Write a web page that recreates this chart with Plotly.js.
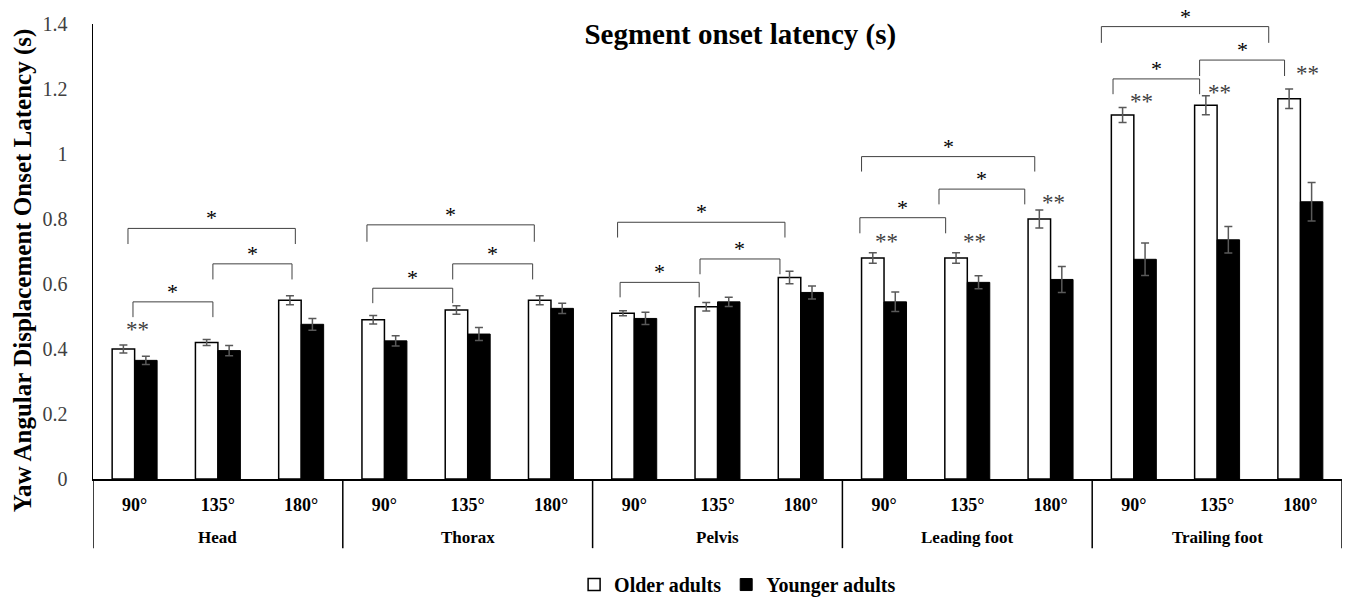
<!DOCTYPE html>
<html>
<head>
<meta charset="utf-8">
<script src="https://cdn.plot.ly/plotly-3.0.1.min.js"></script>
<style>html,body{margin:0;padding:0;background:#fff;}#chart{width:1346px;height:602px;}</style>
</head>
<body>
<div id="chart"></div>
<script>
// ---- data ----
const groups = ['Head', 'Thorax', 'Pelvis', 'Leading foot', 'Trailing foot'];
const angles = ['90°', '135°', '180°'];
const olderValues = [0.40, 0.42, 0.55, 0.49, 0.52, 0.55, 0.51, 0.53, 0.62, 0.68, 0.68, 0.80, 1.12, 1.15, 1.17];
const olderErrors = [0.012, 0.009, 0.014, 0.013, 0.013, 0.014, 0.008, 0.013, 0.019, 0.016, 0.016, 0.028, 0.023, 0.029, 0.030];
const youngerValues = [0.365, 0.395, 0.476, 0.425, 0.446, 0.525, 0.494, 0.545, 0.574, 0.545, 0.605, 0.614, 0.676, 0.736, 0.853];
const youngerErrors = [0.013, 0.016, 0.018, 0.016, 0.020, 0.016, 0.019, 0.014, 0.020, 0.030, 0.020, 0.040, 0.050, 0.041, 0.059];
const seriesNames = ['Older adults', 'Younger adults'];
// significance brackets: [from index, to index, top value, leg end value, label]
const brackets = [
  [-0.02, 0.94, 0.545, 0.498, '*'], [0.94, 1.89, 0.662, 0.614, '*'], [-0.08, 1.93, 0.771, 0.723, '*'],
  [2.86, 3.82, 0.587, 0.541, '*'], [3.82, 4.78, 0.662, 0.614, '*'], [2.79, 4.80, 0.782, 0.730, '*'],
  [5.83, 6.78, 0.605, 0.559, '*'], [6.79, 7.75, 0.677, 0.630, '*'], [5.80, 7.81, 0.790, 0.743, '*'],
  [8.71, 9.74, 0.804, 0.756, '*'], [9.66, 10.69, 0.892, 0.845, '*'], [8.73, 10.81, 0.992, 0.946, '*'],
  [11.75, 12.79, 1.231, 1.184, '*'], [12.79, 13.81, 1.289, 1.240, '*'], [11.61, 13.62, 1.392, 1.342, '*']
];
// group-difference markers: [index, value, label]
const groupMarks = [
  [0.03, 0.474, '**'], [9.03, 0.746, '**'], [10.09, 0.746, '**'], [11.03, 0.867, '**'],
  [12.09, 1.176, '**'], [13.03, 1.205, '**'], [14.09, 1.264, '**']
];
const titleText = 'Segment onset latency (s)';
const yTitleText = 'Yaw Angular Displacement Onset Latency (s)';

// ---- build ----
const xIndex = [], xAngleText = [];
groups.forEach(g => angles.forEach(a => { xIndex.push(xIndex.length); xAngleText.push(a); }));

const serif = "'Liberation Serif', 'Times New Roman', serif";
const errColor = '#595959';

const traces = [
  {
    type: 'bar', name: seriesNames[0], x: xIndex, y: olderValues,
    marker: {color: '#ffffff', line: {color: '#000000', width: 1.5}},
    error_y: {type: 'data', array: olderErrors, visible: true, color: errColor, thickness: 1.5, width: 4}
  },
  {
    type: 'bar', name: seriesNames[1], x: xIndex, y: youngerValues,
    marker: {color: '#000000', line: {color: '#000000', width: 1}},
    error_y: {type: 'data', array: youngerErrors, visible: true, color: errColor, thickness: 1.5, width: 4}
  }
];

const shapes = [];
const annotations = [];
brackets.forEach(b => {
  shapes.push({
    type: 'path', xref: 'x', yref: 'y',
    path: `M ${b[0]},${b[3]} L ${b[0]},${b[2]} L ${b[1]},${b[2]} L ${b[1]},${b[3]}`,
    line: {color: '#404040', width: 1}
  });
  annotations.push({
    xref: 'x', yref: 'y', x: (b[0] + b[1]) / 2, y: b[2], text: b[4], showarrow: false,
    yanchor: 'bottom', yshift: -4, font: {family: serif, size: 22, color: '#000000'}
  });
});
groupMarks.forEach(m => {
  annotations.push({
    xref: 'x', yref: 'y', x: m[0], y: m[1], text: m[2], showarrow: false,
    yanchor: 'middle', yshift: -5, font: {family: serif, size: 23, color: '#404040'}
  });
});
// group dividers and group labels under the axis
const nPer = angles.length;
for (let g = 0; g <= groups.length; g++) {
  shapes.push({
    type: 'line', xref: 'x', yref: 'paper',
    x0: g * nPer - 0.5, x1: g * nPer - 0.5, y0: 0, y1: -0.152,
    line: {color: '#000000', width: 1.5}
  });
}
groups.forEach((g, i) => {
  annotations.push({
    xref: 'x', yref: 'paper', x: i * nPer + (nPer - 1) / 2, y: -0.1275, text: '<b>' + g + '</b>',
    showarrow: false, yanchor: 'middle', font: {family: serif, size: 17, color: '#000000'}
  });
});
// y axis title (placed as in the reference, slightly below the axis centre)
annotations.push({
  xref: 'paper', yref: 'paper', x: -0.056, y: 0.459, xanchor: 'center', yanchor: 'middle',
  textangle: -90, showarrow: false, text: '<b>' + yTitleText + '</b>',
  font: {family: serif, size: 25, color: '#000000'}
});

const layout = {
  width: 1346, height: 602,
  margin: {l: 93, r: 4, t: 24, b: 123},
  paper_bgcolor: '#ffffff', plot_bgcolor: '#ffffff',
  barmode: 'group', bargap: 0.46, bargroupgap: 0,
  title: {
    text: '<b>' + titleText + '</b>',
    x: 0.55, xanchor: 'center', y: 0.943, yanchor: 'middle',
    font: {family: serif, size: 29, color: '#000000'}
  },
  showlegend: true,
  legend: {
    orientation: 'h', xref: 'container', yref: 'container',
    x: 0.548, xanchor: 'center', y: 0.029, yanchor: 'middle',
    font: {family: serif, size: 20, color: '#000000', weight: 'bold'},
    itemwidth: 30, traceorder: 'normal'
  },
  xaxis: {
    range: [-0.5, 14.5],
    tickmode: 'array', tickvals: xIndex, ticktext: xAngleText,
    showline: true, linecolor: '#000000', linewidth: 1.5,
    showgrid: false, zeroline: false,
    ticks: '', ticklabelstandoff: 9,
    tickfont: {family: serif, size: 18, color: '#000000', weight: 'bold'}
  },
  yaxis: {
    range: [0, 1.4], dtick: 0.2, tick0: 0,
    showline: true, linecolor: '#000000', linewidth: 1.5,
    showgrid: false, zeroline: false, ticks: '', ticklabelstandoff: 20,
    tickfont: {family: serif, size: 20, color: '#404040'}
  },
  shapes: shapes,
  annotations: annotations
};

Plotly.newPlot('chart', traces, layout, {displayModeBar: false, staticPlot: true});
</script>
</body>
</html>
